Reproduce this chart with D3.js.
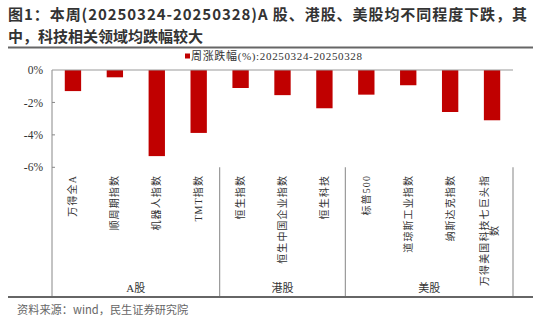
<!DOCTYPE html>
<html><head><meta charset="utf-8">
<script src="https://cdn.jsdelivr.net/npm/d3@7"></script>
<style>body{margin:0;background:#fff}svg{display:block}</style>
</head><body>
<svg id="c" width="550" height="324"></svg>
<script>
const titleLines = ["图1：本周(20250324-20250328)A 股、港股、美股均不同程度下跌，其", "中，科技相关领域均跌幅较大"];
const legendLabel = "周涨跌幅(%):20250324-20250328";
const categories = ["万得全A","顺周期指数","机器人指数","TMT指数","恒生指数","恒生中国企业指数","恒生科技","标普500","道琼斯工业指数","纳斯达克指数","万得美国科技七巨头指数"];
const labelLines = [["万得全A"],["顺周期指数"],["机器人指数"],["TMT指数"],["恒生指数"],["恒生中国企业指数"],["恒生科技"],["标普500"],["道琼斯工业指数"],["纳斯达克指数"],["万得美国科技七巨头指","数"]];
const values = [-1.30,-0.45,-5.31,-3.88,-1.11,-1.55,-2.36,-1.52,-0.94,-2.59,-3.10];
const groups = ["A股","港股","美股"];
const groupSizes = [4,3,4];
const yTicks = [0,-2,-4,-6];
const source = "资料来源：wind，民生证券研究院";

const svg = d3.select("#c");
const serif = "'Liberation Serif','Noto Sans CJK SC',serif";
const sans = "'Noto Sans CJK SC','Noto Sans',sans-serif";

// title
svg.selectAll("text.title").data(titleLines).join("text")
  .attr("x", 8).attr("y", (d,i)=>19.5+i*22)
  .attr("font-family", sans).attr("font-weight", "bold").attr("font-size", 15)
  .attr("fill", "#333").text(d=>d)
  .each(function(d,i){ if(i===0){ d3.select(this).attr("textLength",519).attr("lengthAdjust","spacing"); } });
svg.append("line").attr("x1",8).attr("x2",533).attr("y1",47.5).attr("y2",47.5)
  .attr("stroke","#666").attr("stroke-width",2);

const left = 52, right = 513, top0 = 70, axisBottom = 296;
const x = d3.scaleBand().domain(categories).range([left, right]).padding(0);
const y = d3.scaleLinear().domain([-6, 0]).range([167.3, top0]);

// legend
svg.append("rect").attr("x",185).attr("y",53.5).attr("width",5).attr("height",5).attr("fill","#C00000");
svg.append("text").attr("x",191).attr("y",60).attr("font-family",serif).attr("font-size",11)
  .attr("fill","#333").attr("textLength",171).attr("lengthAdjust","spacing").text(legendLabel);

// bars
const bw = x.bandwidth()*0.39;
svg.selectAll("rect.bar").data(values).join("rect").attr("class","bar")
  .attr("x",(d,i)=>x(categories[i])+x.bandwidth()/2-bw/2)
  .attr("y",y(0)).attr("width",bw).attr("height",d=>y(d)-y(0))
  .attr("fill","#C00000");

// y axis
const yAxis = d3.axisLeft(y).tickValues(yTicks).tickSize(0).tickPadding(9).tickFormat(d=>d+"%");
const ga = svg.append("g").attr("transform",`translate(${left},0)`).call(yAxis);
ga.select(".domain").remove();
ga.selectAll("text").attr("font-family",serif).attr("font-size",11.5).attr("fill","#333");
svg.selectAll("line.ytick").data(yTicks.slice(1)).join("line")
  .attr("x1",left).attr("x2",left+3).attr("y1",d=>y(d)).attr("y2",d=>y(d)).attr("stroke","#888");
svg.append("line").attr("x1",left).attr("x2",left).attr("y1",top0).attr("y2",axisBottom).attr("stroke","#888").attr("stroke-width",1);
// zero line
svg.append("line").attr("x1",left).attr("x2",right).attr("y1",y(0)).attr("y2",y(0)).attr("stroke","#999").attr("stroke-width",1.2);

// group separators
let cum = 0;
const bounds = groupSizes.map(s=>{ const a = cum; cum += s; return [a, cum]; });
bounds.forEach(([a,b],gi)=>{
  const x0 = x(categories[a]);
  const x1 = b < categories.length ? x(categories[b]) : right;
  svg.append("line").attr("x1",x1).attr("x2",x1).attr("y1",y(-6)).attr("y2",axisBottom).attr("stroke","#999").attr("stroke-width",1.2);
  svg.append("text").attr("x",(x0+x1)/2).attr("y",292).attr("text-anchor","middle")
    .attr("font-family",serif).attr("font-size",11).attr("fill","#333").text(groups[gi]);
});

// category labels (rotated)
labelLines.forEach((lines,i)=>{
  const cx = x(categories[i]) + x.bandwidth()/2;
  const n = lines.length;
  let firstLen = 0;
  lines.forEach((ln,j)=>{
    const lx = cx + (j - (n-1)/2)*10 + (n>1 ? -3 : 0);
    const t = svg.append("text")
      .attr("font-family",serif).attr("font-size",10).attr("letter-spacing",1.1).attr("fill","#333")
      .attr("dominant-baseline","central").text(ln);
    if (j===0) {
      t.attr("text-anchor","end").attr("transform",`translate(${lx},175) rotate(-90)`);
      firstLen = t.node().getComputedTextLength();
    } else {
      t.attr("text-anchor","middle").attr("transform",`translate(${lx},${175+firstLen/2}) rotate(-90)`);
    }
  });
});

// bottom rule + source
svg.append("line").attr("x1",8).attr("x2",533).attr("y1",297).attr("y2",297).attr("stroke","#666").attr("stroke-width",2);
svg.append("text").attr("x",17).attr("y",314).attr("font-family",sans).attr("font-size",11.2).attr("fill","#666").text(source);
</script>
</body></html>
